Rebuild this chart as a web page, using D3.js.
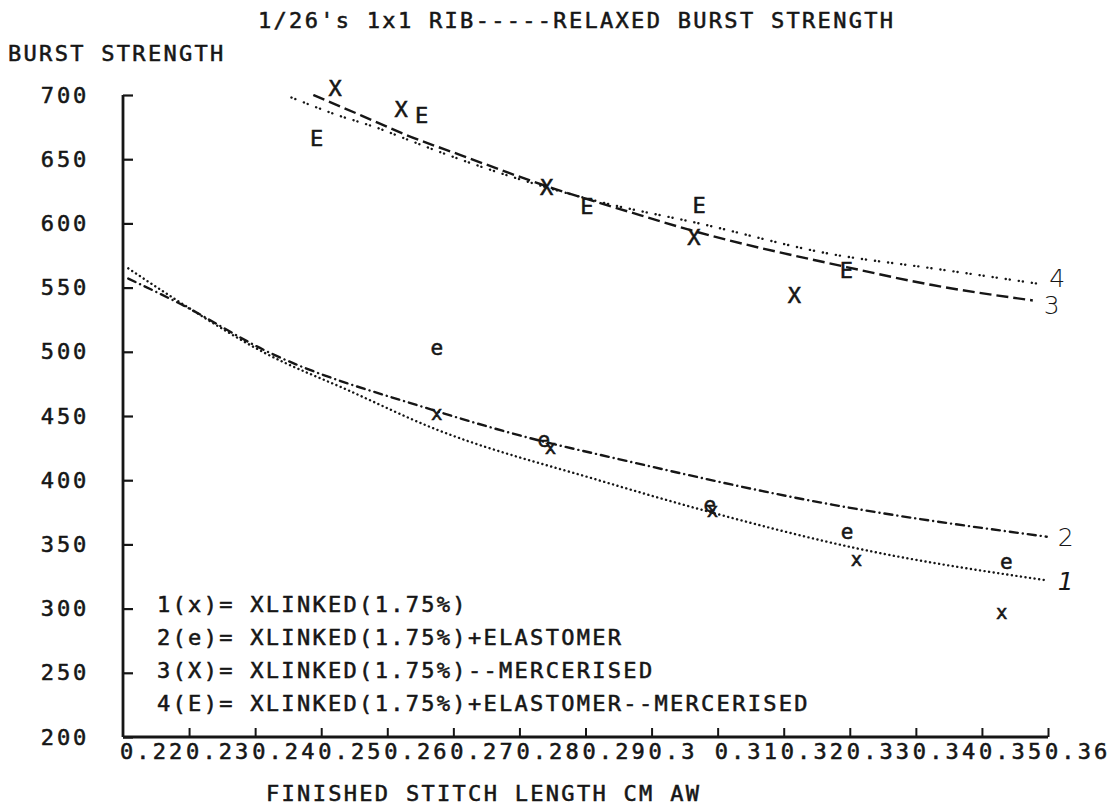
<!DOCTYPE html>
<html>
<head>
<meta charset="utf-8">
<script src="https://cdn.jsdelivr.net/npm/d3@7"></script>
<style>
  html, body { margin: 0; padding: 0; background: #fff; }
  svg { display: block; }
  .plot-text { font-family: "DejaVu Sans Mono", monospace; fill: #161616; stroke: #161616; stroke-width: 0.55px; }
  .hand { font-family: "DejaVu Sans", sans-serif; font-weight: 300; fill: #161616; }
</style>
</head>
<body>
<svg id="chart" width="1117" height="805"></svg>
<script>
// Axis ticks
const xTickValues = [0.22, 0.23, 0.24, 0.25, 0.26, 0.27, 0.28, 0.29, 0.30, 0.31, 0.32, 0.33, 0.34, 0.35, 0.36];
const xTickLabels = ["0.22", "0.23", "0.24", "0.25", "0.26", "0.27", "0.28", "0.29", "0.3", "0.31", "0.32", "0.33", "0.34", "0.35", "0.36"];
const yTickValues = [200, 250, 300, 350, 400, 450, 500, 550, 600, 650, 700];

// 1(x) = XLINKED(1.75%)
const s1X = [0.2675, 0.2847, 0.3092, 0.3310, 0.3530];
const s1Y = [452, 426, 377, 339, 297];
const fit1X = [0.2208, 0.2288, 0.2415, 0.2541, 0.2667, 0.2920, 0.3090, 0.3310, 0.3598];
const fit1Y = [565, 538, 499, 470, 441, 400, 375, 347, 322];

// 2(e) = XLINKED(1.75%)+ELASTOMER
const s2X = [0.2675, 0.2837, 0.3088, 0.3296, 0.3537];
const s2Y = [503, 431, 381, 360, 336];
const fit2X = [0.2208, 0.2288, 0.2415, 0.2667, 0.2837, 0.2920, 0.3273, 0.3598];
const fit2Y = [557, 537, 501, 455, 430, 420, 381, 356];

// 3(X) = XLINKED(1.75%)--MERCERISED
const s3X = [0.2521, 0.2621, 0.2841, 0.3064, 0.3216];
const s3Y = [705, 689, 628, 589, 544];
const fit3X = [0.2488, 0.2561, 0.2628, 0.2712, 0.2841, 0.2966, 0.3064, 0.3295, 0.3425, 0.3577];
const fit3Y = [700, 684, 669, 653, 629, 609, 594, 566, 552, 540];

// 4(E) = XLINKED(1.75%)+ELASTOMER--MERCERISED
const s4X = [0.2493, 0.2652, 0.2902, 0.3072, 0.3295];
const s4Y = [666, 684, 613, 614, 563];
const fit4X = [0.2455, 0.2521, 0.2587, 0.2632, 0.2662, 0.2920, 0.3072, 0.3273, 0.3425, 0.3585];
const fit4Y = [698, 685, 674, 665, 659, 617, 600, 576, 565, 553];

const legendLines = [
  "1(x)= XLINKED(1.75%)",
  "2(e)= XLINKED(1.75%)+ELASTOMER",
  "3(X)= XLINKED(1.75%)--MERCERISED",
  "4(E)= XLINKED(1.75%)+ELASTOMER--MERCERISED"
];
const curveTags = ["1", "2", "3", "4"];

const svg = d3.select("#chart");
const plotLeft = 123, plotRight = 1048, plotTop = 95, plotBottom = 737;

const x = d3.scaleLinear().domain([0.22, 0.36]).range([plotLeft, plotRight]);
const y = d3.scaleLinear().domain([200, 700]).range([plotBottom, plotTop]);

const ink = "#161616";
const fontSize = "22px";
const spacing = "2.3px";

// Titles
svg.append("text").attr("class", "plot-text")
  .attr("x", 258).attr("y", 20).attr("dominant-baseline", "central")
  .style("font-size", fontSize).style("letter-spacing", spacing)
  .text("1/26's 1x1 RIB-----RELAXED BURST STRENGTH");

svg.append("text").attr("class", "plot-text")
  .attr("x", 8).attr("y", 53).attr("dominant-baseline", "central")
  .style("font-size", fontSize).style("letter-spacing", spacing)
  .text("BURST STRENGTH");

svg.append("text").attr("class", "plot-text")
  .attr("x", 266).attr("y", 793).attr("dominant-baseline", "central")
  .style("font-size", fontSize).style("letter-spacing", spacing)
  .text("FINISHED STITCH LENGTH CM AW");

// Axes drawn with d3 axis generators, ticks pointing into the plot
const yAxis = d3.axisLeft(y).tickValues(yTickValues).tickSize(-10).tickFormat("");
const gy = svg.append("g").attr("transform", `translate(${plotLeft},0)`).call(yAxis);
gy.select(".domain").remove();
gy.selectAll(".tick line").attr("stroke", ink).attr("stroke-width", 2.2);

const xAxis = d3.axisBottom(x).tickValues(xTickValues.slice(1)).tickSize(-9).tickFormat("");
const gx = svg.append("g").attr("transform", `translate(0,${plotBottom})`).call(xAxis);
gx.select(".domain").remove();
gx.selectAll(".tick line").attr("stroke", ink).attr("stroke-width", 2);

svg.append("line").attr("x1", plotLeft).attr("x2", plotLeft).attr("y1", y(700)).attr("y2", plotBottom)
  .attr("stroke", ink).attr("stroke-width", 2.8);
svg.append("line").attr("x1", plotLeft).attr("x2", plotRight).attr("y1", plotBottom).attr("y2", plotBottom)
  .attr("stroke", ink).attr("stroke-width", 2.8);

// Tick labels
svg.append("g").selectAll("text").data(yTickValues).join("text")
  .attr("class", "plot-text")
  .attr("x", 89).attr("y", d => y(d)).attr("text-anchor", "end")
  .attr("dominant-baseline", "central")
  .style("font-size", fontSize).style("letter-spacing", "2.8px")
  .text(d => String(d));

svg.append("g").selectAll("text").data(xTickValues).join("text")
  .attr("class", "plot-text")
  .attr("x", d => x(d) - 3).attr("y", 751)
  .attr("dominant-baseline", "central")
  .style("font-size", fontSize).style("letter-spacing", "3.1px")
  .text((d, i) => xTickLabels[i]);

// Fitted curves
const line = d3.line().x(d => x(d[0])).y(d => y(d[1])).curve(d3.curveMonotoneX);
const curves = [
  { xs: fit1X, ys: fit1Y, dash: "0.1,4.5", w: 2.4, cap: "round" },
  { xs: fit2X, ys: fit2Y, dash: "8,5,0.1,5", w: 2.4, cap: "round" },
  { xs: fit3X, ys: fit3Y, dash: "12,5", w: 2.4, cap: "butt" },
  { xs: fit4X, ys: fit4Y, dash: "0.1,4,0.1,9", w: 2.4, cap: "round" }
];
curves.forEach(c => {
  svg.append("path")
    .datum(c.xs.map((v, i) => [v, c.ys[i]]))
    .attr("d", line)
    .attr("fill", "none")
    .attr("stroke", ink)
    .attr("stroke-width", c.w)
    .attr("stroke-linecap", c.cap)
    .attr("stroke-dasharray", c.dash);
});

// Curve tags at the right ends
const tagPos = [
  [fit1X[fit1X.length - 1], fit1Y[fit1Y.length - 1]],
  [fit2X[fit2X.length - 1], fit2Y[fit2Y.length - 1]],
  [fit3X[fit3X.length - 1], fit3Y[fit3Y.length - 1]],
  [fit4X[fit4X.length - 1], fit4Y[fit4Y.length - 1]]
];
const tagShift = [1, 1, 5, -5];
svg.append("g").selectAll("text").data(curveTags).join("text")
  .attr("class", "hand")
  .attr("x", (d, i) => x(tagPos[i][0]) + 19)
  .attr("y", (d, i) => y(tagPos[i][1]) + tagShift[i])
  .attr("text-anchor", "middle").attr("dominant-baseline", "central")
  .style("font-size", "25px").style("font-style", (d, i) => i === 0 ? "italic" : "normal")
  .text(d => d);

// Point symbols
const symbolSets = [
  { xs: s1X, ys: s1Y, glyph: "x", size: 19 },
  { xs: s2X, ys: s2Y, glyph: "e", size: 21 },
  { xs: s3X, ys: s3Y, glyph: "X", size: 22 },
  { xs: s4X, ys: s4Y, glyph: "E", size: 22 }
];
symbolSets.forEach(s => {
  svg.append("g").selectAll("text").data(s.xs.map((v, i) => [v, s.ys[i]])).join("text")
    .attr("class", "plot-text")
    .attr("x", d => x(d[0])).attr("y", d => y(d[1]))
    .attr("text-anchor", "middle").attr("dominant-baseline", "central")
    .style("font-size", s.size + "px")
    .text(s.glyph);
});

// Legend
svg.append("g").selectAll("text").data(legendLines).join("text")
  .attr("class", "plot-text")
  .attr("x", 157).attr("y", (d, i) => 604 + i * 33)
  .attr("dominant-baseline", "central")
  .style("font-size", fontSize).style("letter-spacing", spacing)
  .style("white-space", "pre")
  .text(d => d);
</script>
</body>
</html>
